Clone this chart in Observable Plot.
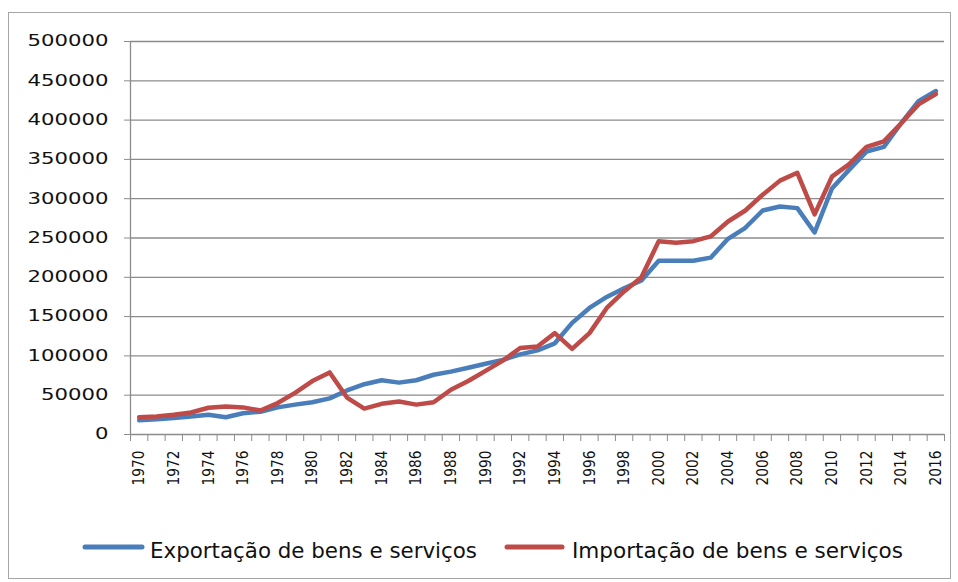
<!DOCTYPE html>
<html><head><meta charset="utf-8">
<script src="https://cdn.jsdelivr.net/npm/d3@7"></script>
<script src="https://cdn.jsdelivr.net/npm/@observablehq/plot@0.6"></script>
<style>
body{margin:0;background:#fff;font-family:"DejaVu Sans";}
#wrap{position:relative;width:958px;height:582px;overflow:hidden;background:#fff;}
#wrap > svg{position:absolute;left:0;}
#border{position:absolute;left:8px;top:12px;width:941px;height:565px;border:1px solid #a6a6a6;pointer-events:none;}
</style></head><body><div id="wrap"><div id="border"></div></div>
<script>
const years = [1970,1971,1972,1973,1974,1975,1976,1977,1978,1979,
  1980,1981,1982,1983,1984,1985,1986,1987,1988,1989,
  1990,1991,1992,1993,1994,1995,1996,1997,1998,1999,
  2000,2001,2002,2003,2004,2005,2006,2007,2008,2009,
  2010,2011,2012,2013,2014,2015,2016];
const exportValues = [18000,19500,21000,23000,25000,22000,27000,29000,34500,38000,
  41000,46000,56000,64000,69000,66000,69000,76000,80000,85000,
  90000,95000,102000,107000,116000,142000,161000,175000,186000,196000,
  221000,221000,221000,225000,249000,263000,285000,290000,288000,257000,
  313000,337000,360000,366000,396000,424000,437000];
const importValues = [22000,23000,25000,28000,34000,35500,34500,30500,40000,53000,
  68000,79000,47000,33000,39000,42000,38000,41000,57000,68000,
  81000,94000,110000,112000,129000,109000,129000,161000,182000,200000,
  246000,244000,246000,252000,271000,285000,305000,323000,333000,280000,
  328000,344000,366000,373000,396000,420000,433000];
const yTicks = [0,50000,100000,150000,200000,250000,300000,350000,400000,450000,500000];
const yearLabels = [1970,1972,1974,1976,1978,1980,1982,1984,1986,1988,1990,1992,1994,
  1996,1998,2000,2002,2004,2006,2008,2010,2012,2014,2016];
const seriesNames = ["Exportação de bens e serviços","Importação de bens e serviços"];
const seriesColors = ["#4a7ebb","#be4b48"];

const rows = [
  ...years.map((year,i)=>({year, value: exportValues[i], series: seriesNames[0]})),
  ...years.map((year,i)=>({year, value: importValues[i], series: seriesNames[1]}))
];
const boundaries = years.map(y=>y-0.5).concat([years[years.length-1]+0.5]);
const gridCol = "#8c8c8c";

const chart = Plot.plot({
  width: 958, height: 510,
  marginLeft: 130, marginRight: 14, marginTop: 41, marginBottom: 76,
  style: {fontFamily: "DejaVu Sans", background: "transparent", overflow: "visible"},
  x: {domain: [boundaries[0], boundaries[boundaries.length-1]], axis: null, label: null},
  y: {domain: [0, 500000], axis: null, label: null},
  color: {domain: seriesNames, range: seriesColors},
  marks: [
    Plot.ruleY(yTicks, {stroke: gridCol, strokeWidth: 1.3}),
    Plot.ruleX([boundaries[0]], {stroke: gridCol, strokeWidth: 1.3}),
    Plot.axisY(yTicks, {label: null, tickSize: 6, tickPadding: 16, tickFormat: d => String(d), fontSize: 15, stroke: gridCol, fill: "#111"}),
    Plot.axisX(boundaries, {label: null, tickSize: 7, tickFormat: () => "", stroke: gridCol}),
    Plot.axisX(yearLabels, {label: null, tickSize: 0, tickPadding: 16, rotate: -90, textAnchor: "end", lineAnchor: "middle", fontSize: 16, fill: "#111", tickFormat: d => String(d)}),
    Plot.line(rows, {x: "year", y: "value", stroke: "series", strokeWidth: 4.5, strokeLinejoin: "round", strokeLinecap: "round"})
  ]
});
chart.style.top = "0px";
chart.querySelectorAll('g[aria-label="y-axis tick label"] text').forEach(t => {
  const n = t.textContent.length;
  t.setAttribute("textLength", n * 13.5);
  t.setAttribute("lengthAdjust", "spacingAndGlyphs");
});
chart.querySelectorAll('g[aria-label="x-axis tick label"] text').forEach(t => {
  if (t.textContent.length) {
    t.setAttribute("textLength", 35);
    t.setAttribute("lengthAdjust", "spacingAndGlyphs");
  }
});
const wrap = document.getElementById("wrap");
wrap.insertBefore(chart, wrap.firstChild);

// legend
const legend = d3.create("svg").attr("width", 958).attr("height", 72)
  .style("top", "510px").style("font-family", "DejaVu Sans");
const items = [
  {name: seriesNames[0], color: seriesColors[0], x1: 85, x2: 142, tx: 150, tw: 327},
  {name: seriesNames[1], color: seriesColors[1], x1: 507, x2: 562, tx: 572, tw: 331}
];
items.forEach(it => {
  legend.append("line").attr("x1", it.x1).attr("x2", it.x2).attr("y1", 37).attr("y2", 37)
    .attr("stroke", it.color).attr("stroke-width", 5).attr("stroke-linecap", "round");
  legend.append("text").attr("x", it.tx).attr("y", 48).attr("font-size", 22).attr("fill", "#111")
    .attr("textLength", it.tw).attr("lengthAdjust", "spacingAndGlyphs").text(it.name);
});
wrap.insertBefore(legend.node(), wrap.firstChild);
</script></body></html>
